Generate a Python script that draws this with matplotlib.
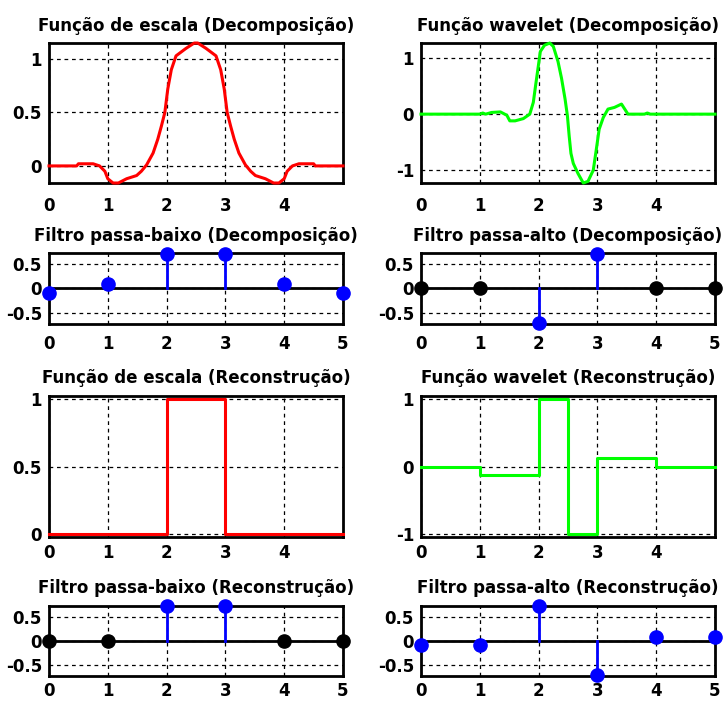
import numpy as np
import matplotlib.pyplot as plt

plt.rcParams['font.family'] = ['DejaVu Sans']
plt.rcParams['font.weight'] = 'bold'

# scaling function used for decomposition (sampled along the curve)
phi_dec_x = [0, 0.47, 0.5, 0.75, 0.86, 0.95, 1.0, 1.09, 1.18, 1.32, 1.49, 1.57, 1.66,
             1.77, 1.85, 1.91, 1.97, 2.02, 2.08, 2.16, 2.33, 2.47, 2.53, 2.67, 2.84,
             2.92, 2.98, 3.03, 3.09, 3.15, 3.23, 3.34, 3.43, 3.51, 3.68, 3.82, 3.91,
             4.0, 4.05, 4.14, 4.25, 4.5, 4.53, 5.0]
phi_dec_y = [0, 0, 0.02, 0.02, 0, -0.05, -0.12, -0.16, -0.16, -0.12, -0.09, -0.05, 0.01,
             0.12, 0.25, 0.37, 0.5, 0.72, 0.9, 1.03, 1.10, 1.15, 1.15, 1.10, 1.03,
             0.9, 0.72, 0.5, 0.37, 0.25, 0.12, 0.01, -0.05, -0.09, -0.12, -0.16, -0.16,
             -0.12, -0.05, 0, 0.02, 0.02, 0, 0]

# wavelet function used for decomposition
psi_dec_x = [0, 1.0, 1.05, 1.1, 1.2, 1.35, 1.46, 1.51, 1.6, 1.74, 1.85, 1.91, 1.95,
             1.99, 2.03, 2.1, 2.19, 2.25, 2.33, 2.39, 2.45, 2.49, 2.52, 2.55, 2.59,
             2.67, 2.76, 2.84, 2.93, 2.98, 3.03, 3.1, 3.18, 3.29, 3.41, 3.52, 3.8,
             3.85, 3.9, 5.0]
psi_dec_y = [0, 0, 0.02, 0, 0.03, 0.04, -0.02, -0.12, -0.12, -0.08, 0, 0.21, 0.52,
             0.82, 1.12, 1.23, 1.27, 1.21, 0.94, 0.64, 0.27, -0.03, -0.39, -0.70, -0.88,
             -1.06, -1.23, -1.20, -1.0, -0.64, -0.27, -0.06, 0.09, 0.12, 0.18, 0, 0,
             0.02, 0, 0]

# reconstruction functions (piecewise constant)
phi_rec_x = [0, 2, 2, 3, 3, 5]
phi_rec_y = [0, 0, 1, 1, 0, 0]
psi_rec_x = [0, 1, 1, 2, 2, 2.5, 2.5, 3, 3, 4, 4, 5]
psi_rec_y = [0, 0, -0.125, -0.125, 1, 1, -1, -1, 0.125, 0.125, 0, 0]

# filter coefficients
taps = [0, 1, 2, 3, 4, 5]
lo_d = [-0.0884, 0.0884, 0.7071, 0.7071, 0.0884, -0.0884]
hi_d = [0, 0, -0.7071, 0.7071, 0, 0]
lo_r = [0, 0, 0.7071, 0.7071, 0, 0]
hi_r = [-0.0884, -0.0884, 0.7071, -0.7071, 0.0884, 0.0884]

fig = plt.figure(figsize=(7.25, 7.02), dpi=100)

left_x, right_x, w = 0.0676, 0.5807, 0.4055
rows = {1: (0.7393, 0.1994), 2: (0.5385, 0.1011), 3: (0.2350, 0.2009), 4: (0.0370, 0.1000)}
xpad = {1: 10, 2: 8, 3: 5, 4: 4}


def style_axes(ax, title, row):
    for s in ax.spines.values():
        s.set_linewidth(2)
        s.set_zorder(2.5)
    ax.grid(True, color='black', linestyle=(0, (3, 3)), linewidth=0.9)
    ax.tick_params(length=0, labelsize=12)
    ax.tick_params(axis='y', pad=5)
    ax.tick_params(axis='x', pad=xpad[row])
    ax.set_title(title, fontsize=12, fontweight='bold', pad=9)
    for lab in ax.get_xticklabels() + ax.get_yticklabels():
        lab.set_fontweight('bold')


def curve(row, col_x, x, y, color, title, yticks, ylim):
    ax = fig.add_axes([col_x, rows[row][0], w, rows[row][1]])
    ax.plot(x, y, color=color, linewidth=2.2, clip_on=False, zorder=3)
    ax.set_xlim(0, 5)
    ax.set_ylim(*ylim)
    ax.set_xticks([0, 1, 2, 3, 4])
    ax.set_yticks(yticks)
    ax.set_yticklabels([f'{t:g}' for t in yticks])
    style_axes(ax, title, row)
    return ax


def stems(row, col_x, vals, title):
    ax = fig.add_axes([col_x, rows[row][0], w, rows[row][1]])
    ax.axhline(0, color='black', linewidth=2, zorder=2)
    for t, v in zip(taps, vals):
        if v == 0:
            ax.plot(t, v, 'o', color='black', markersize=9.5, clip_on=False, zorder=4)
        else:
            ax.plot([t, t], [0, v], color='blue', linewidth=2, zorder=3)
            ax.plot(t, v, 'o', color='blue', markersize=9.5, clip_on=False, zorder=4)
    ax.set_xlim(0, 5)
    ax.set_ylim(-0.72, 0.72)
    ax.set_xticks(taps)
    ax.set_yticks([-0.5, 0, 0.5])
    ax.set_yticklabels(['-0.5', '0', '0.5'])
    style_axes(ax, title, row)
    return ax


curve(1, left_x, phi_dec_x, phi_dec_y, 'red',
      'Função de escala (Decomposição)', [0, 0.5, 1], (min(phi_dec_y), max(phi_dec_y)))
curve(1, right_x, psi_dec_x, psi_dec_y, '#00ff00',
      'Função wavelet (Decomposição)', [-1, 0, 1], (min(psi_dec_y), max(psi_dec_y)))

stems(2, left_x, lo_d, 'Filtro passa-baixo (Decomposição)')
stems(2, right_x, hi_d, 'Filtro passa-alto (Decomposição)')

curve(3, left_x, phi_rec_x, phi_rec_y, 'red',
      'Função de escala (Reconstrução)', [0, 0.5, 1], (-0.02, 1.02))
curve(3, right_x, psi_rec_x, psi_rec_y, '#00ff00',
      'Função wavelet (Reconstrução)', [-1, 0, 1], (-1.04, 1.04))

stems(4, left_x, lo_r, 'Filtro passa-baixo (Reconstrução)')
stems(4, right_x, hi_r, 'Filtro passa-alto (Reconstrução)')

fig.savefig('out.png', dpi=100)
